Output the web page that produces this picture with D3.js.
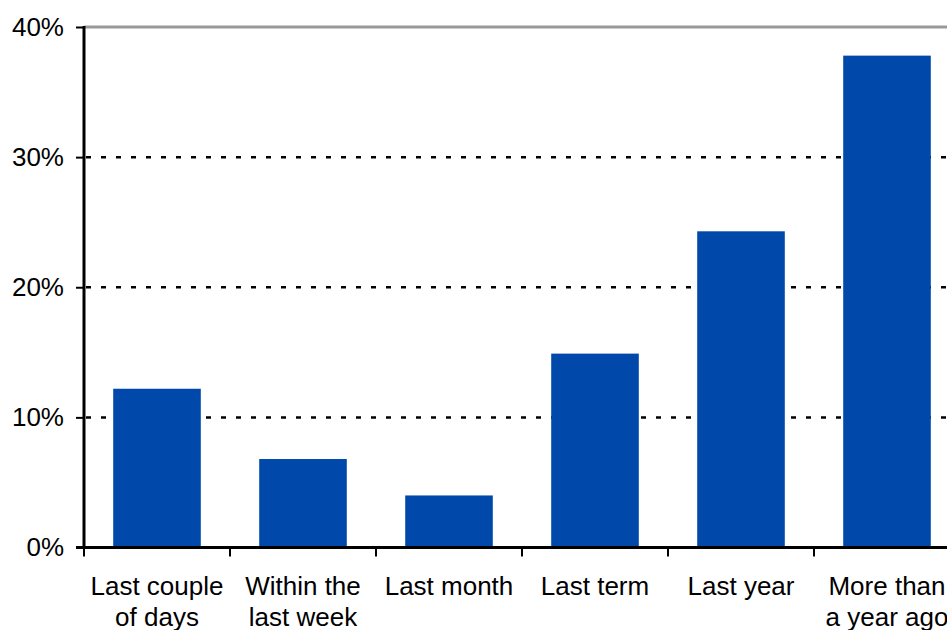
<!DOCTYPE html>
<html>
<head>
<meta charset="utf-8">
<script src="https://cdn.jsdelivr.net/npm/d3@7"></script>
<style>
  body { margin: 0; background: #fff; }
  svg { display: block; font-family: "Liberation Sans", Arial, sans-serif; }
</style>
</head>
<body>
<svg id="svg1" width="947" height="630"></svg>
<script>
// chart data
var categories = [['Last couple', 'of days'], ['Within the', 'last week'], ['Last month'], ['Last term'], ['Last year'], ['More than', 'a year ago']];
var values = [12.2, 6.8, 4.0, 14.9, 24.3, 37.8];
var yTicks = [0, 10, 20, 30, 40];

var svg = d3.select('#svg1');

var x0 = 84, yBottom = 547.5, yTop = 27;

var x = d3.scaleBand()
    .domain(d3.range(categories.length))
    .range([x0, x0 + 146 * categories.length])
    .paddingInner(0.4)
    .paddingOuter(0.2);

var y = d3.scaleLinear()
    .domain([0, 40])
    .range([yBottom, yTop]);

// gridlines (dotted), top one grey solid
svg.selectAll('line.grid')
    .data(yTicks.filter(function(d){ return d > 0 && d < 40; }))
    .enter().append('line')
    .attr('class', 'grid')
    .attr('x1', x0 + 2).attr('x2', 947)
    .attr('y1', function(d){ return y(d); })
    .attr('y2', function(d){ return y(d); })
    .attr('stroke', '#000')
    .attr('stroke-width', 2.5)
    .attr('stroke-dasharray', '5,10');

svg.append('line')
    .attr('x1', x0).attr('x2', 947)
    .attr('y1', y(40)).attr('y2', y(40))
    .attr('stroke', '#999')
    .attr('stroke-width', 3);

// bars
svg.selectAll('rect.bar')
    .data(values)
    .enter().append('rect')
    .attr('class', 'bar')
    .attr('x', function(d, i){ return x(i); })
    .attr('width', x.bandwidth())
    .attr('y', function(d){ return y(d); })
    .attr('height', function(d){ return y(0) - y(d); })
    .attr('fill', '#0049AA');

// y axis
var yAxis = d3.axisLeft(y)
    .tickValues(yTicks)
    .tickSize(8)
    .tickPadding(12)
    .tickFormat(function(d){ return d + '%'; });

var gy = svg.append('g')
    .attr('transform', 'translate(' + x0 + ',0)')
    .call(yAxis);
gy.select('.domain').remove();
gy.selectAll('.tick line').attr('stroke', '#000').attr('stroke-width', 2);
gy.selectAll('.tick text')
    .attr('font-size', 26)
    .attr('font-family', '"Liberation Sans", Arial, sans-serif')
    .attr('fill', '#000');

svg.append('line')
    .attr('x1', x0).attr('x2', x0)
    .attr('y1', y(40) - 1).attr('y2', y(0))
    .attr('stroke', '#000').attr('stroke-width', 3);

// x axis baseline and ticks at band boundaries
svg.append('line')
    .attr('x1', x0 - 8).attr('x2', 947)
    .attr('y1', y(0)).attr('y2', y(0))
    .attr('stroke', '#000').attr('stroke-width', 3);

svg.selectAll('line.xtick')
    .data(d3.range(categories.length + 1))
    .enter().append('line')
    .attr('class', 'xtick')
    .attr('x1', function(i){ return x0 + i * x.step(); })
    .attr('x2', function(i){ return x0 + i * x.step(); })
    .attr('y1', y(0)).attr('y2', y(0) + 9)
    .attr('stroke', '#000').attr('stroke-width', 2);

// category labels
var labels = svg.selectAll('text.xlab')
    .data(categories)
    .enter().append('text')
    .attr('class', 'xlab')
    .attr('text-anchor', 'middle')
    .attr('font-size', 26)
    .attr('fill', '#000')
    .attr('x', function(d, i){ return x(i) + x.bandwidth() / 2; })
    .attr('y', 595);

labels.selectAll('tspan')
    .data(function(d){ return d; })
    .enter().append('tspan')
    .attr('x', function(){ return this.parentNode.getAttribute('x'); })
    .attr('dy', function(d, i){ return i === 0 ? 0 : 31; })
    .text(function(d){ return d; });
</script>
</body>
</html>
